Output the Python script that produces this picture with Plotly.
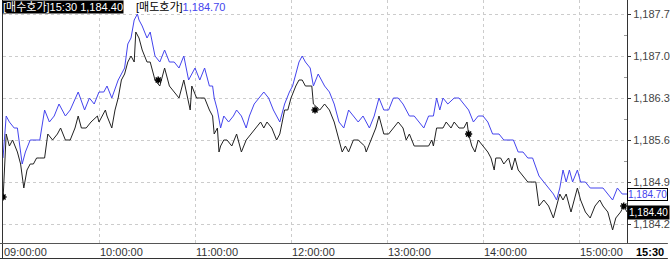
import plotly.graph_objects as go

# ---------------- data ----------------
ask_name = "[매도호가]"
bid_name = "[매수호가]"

# minutes after 09:00
ask_minutes = [
    0, 2, 4, 7, 9, 12, 14, 17, 20, 23, 26, 29, 32, 35, 39, 42, 47, 51, 54, 57,
    60, 63, 65, 68, 72, 74, 76, 78, 80, 82, 84, 85, 87, 90, 92, 95, 98, 101, 104, 107, 110, 113, 116,
    120, 123, 126, 129, 131, 132, 134, 136, 138, 141, 144, 146, 149, 152, 154, 157, 160, 163, 166, 169, 173, 176, 179,
    181, 183, 185, 187, 189, 192, 194, 197, 201, 204, 207, 210, 213, 216, 219, 222, 225, 229, 232, 235, 238,
    241, 244, 247, 250, 254, 257, 260, 263, 266, 269, 271, 273, 275, 278, 282, 285, 288, 291, 294, 297,
    300, 303, 306, 310, 313, 316, 319, 322, 325, 328, 331, 335, 338, 341, 344, 346, 348, 350, 352, 354, 356,
    359, 361, 364, 367, 370, 372, 375, 378, 381, 384, 387, 390,
]
ask_prices = [
    1185.3, 1186.0, 1185.9, 1185.8, 1185.8, 1185.2, 1185.4, 1185.6, 1185.6, 1185.6, 1186.1, 1185.9, 1186.0, 1186.2, 1186.0, 1186.1, 1186.4, 1186.1, 1186.3, 1186.2,
    1186.4, 1186.4, 1186.5, 1186.3, 1186.6, 1186.7, 1186.8, 1187.2, 1187.3, 1187.6, 1187.7, 1187.6, 1187.5, 1187.3, 1187.4, 1187.0, 1186.9, 1187.1, 1186.9, 1186.9, 1186.8, 1187.0, 1186.6,
    1186.8, 1186.6, 1186.8, 1186.5, 1186.5, 1186.3, 1186.1, 1185.8, 1186.0, 1185.9, 1186.0, 1186.1, 1186.0, 1185.8, 1186.0, 1186.2, 1186.3, 1186.4, 1186.3, 1186.1, 1185.9, 1186.2, 1186.4,
    1186.5, 1186.7, 1186.9, 1187.0, 1186.9, 1186.8, 1186.5, 1186.7, 1186.5, 1186.4, 1186.2, 1185.9, 1185.8, 1186.1, 1186.0, 1185.9, 1186.0, 1185.8, 1186.0, 1186.3, 1186.1,
    1186.1, 1186.3, 1186.3, 1186.2, 1186.0, 1186.0, 1185.9, 1185.8, 1186.0, 1186.0, 1186.3, 1186.1, 1186.3, 1186.2, 1186.3, 1186.3, 1186.2, 1186.1, 1185.9, 1186.0,
    1186.0, 1185.9, 1185.7, 1185.7, 1185.6, 1185.6, 1185.6, 1185.4, 1185.4, 1185.3, 1185.3, 1185.0, 1184.9, 1184.8, 1184.7, 1184.6, 1184.8, 1185.1, 1184.9, 1185.1, 1184.9,
    1185.1, 1184.9, 1184.9, 1184.8, 1184.8, 1184.8, 1184.8, 1184.7, 1184.6, 1184.8, 1184.7, 1184.7,
]

bid_minutes = [
    0, 2, 4, 6, 9, 11, 12, 13, 15, 17, 19, 21, 23, 26, 28, 31, 34, 36, 39, 42, 45, 47, 49, 52, 55, 59,
    60, 64, 65, 68, 70, 72, 74, 76, 78, 80, 82, 83, 85, 87, 90, 92, 95, 98, 101, 104, 107, 110, 113, 117, 118,
    121, 123, 126, 129, 131, 132, 134, 135, 136, 138, 140, 143, 146, 149, 152, 155, 158, 161, 163, 165, 168, 171, 173, 176, 178,
    180, 183, 185, 187, 189, 193, 194, 198, 201, 204, 207, 210, 212, 214, 216, 219, 222, 226, 227, 230, 233, 235, 238,
    241, 244, 247, 250, 252, 254, 257, 260, 263, 266, 268, 269, 271, 275, 277, 280, 282, 285, 288, 290, 291, 293, 295, 297,
    300, 303, 305, 307, 308, 311, 313, 316, 318, 320, 322, 325, 328, 331, 333, 335, 338, 341, 344, 346, 348, 350, 352, 355, 356,
    359, 361, 364, 367, 370, 373, 375, 378, 381, 383, 386, 388, 390,
]
bid_prices = [
    1184.6, 1185.7, 1185.5, 1185.6, 1185.4, 1185.2, 1185.0, 1184.8, 1185.1, 1185.2, 1185.2, 1185.3, 1185.3, 1185.3, 1185.7, 1185.6, 1185.7, 1185.8, 1185.6, 1185.6, 1185.8, 1186.0, 1185.8, 1185.8, 1185.9, 1186.0,
    1185.9, 1186.1, 1186.0, 1185.8, 1186.1, 1186.3, 1186.6, 1186.7, 1186.9, 1187.0, 1186.9, 1187.4, 1187.3, 1187.1, 1186.9, 1186.9, 1186.6, 1186.5, 1186.8, 1186.5, 1186.4, 1186.3, 1186.6, 1186.1, 1186.5,
    1186.3, 1186.3, 1186.3, 1186.1, 1186.0, 1185.7, 1185.8, 1185.4, 1185.5, 1185.6, 1185.6, 1185.5, 1185.7, 1185.4, 1185.6, 1185.7, 1185.8, 1185.9, 1185.8, 1185.9, 1185.8, 1185.6, 1185.7, 1186.1, 1186.1,
    1186.3, 1186.5, 1186.6, 1186.6, 1186.5, 1186.5, 1186.2, 1186.1, 1186.2, 1186.1, 1185.9, 1185.6, 1185.4, 1185.5, 1185.4, 1185.6, 1185.6, 1185.5, 1185.4, 1185.6, 1185.8, 1186.0, 1185.7,
    1185.7, 1185.8, 1185.9, 1185.8, 1185.6, 1185.7, 1185.5, 1185.5, 1185.5, 1185.5, 1185.6, 1185.5, 1185.8, 1185.8, 1185.9, 1185.8, 1185.9, 1185.8, 1185.8, 1185.9, 1185.7, 1185.5, 1185.4, 1185.6,
    1185.5, 1185.4, 1185.3, 1185.1, 1185.3, 1185.3, 1185.2, 1185.3, 1185.1, 1185.3, 1185.1, 1185.0, 1184.9, 1184.9, 1184.9, 1184.5, 1184.6, 1184.5, 1184.3, 1184.5, 1184.7, 1184.6, 1184.7, 1184.4, 1184.5,
    1184.8, 1184.6, 1184.4, 1184.3, 1184.5, 1184.6, 1184.5, 1184.4, 1184.1, 1184.3, 1184.4, 1184.5, 1184.4,
]

mark_minutes = [0, 97, 195, 291, 388]
mark_prices = [1184.65, 1186.6, 1186.1, 1185.7, 1184.5]

price_ticks = [1187.7, 1187.0, 1186.3, 1185.6, 1184.9, 1184.2]
hour_ticks = [0, 60, 120, 180, 240, 300, 360]
hour_labels = ["09:00:00", "10:00:00", "11:00:00", "12:00:00", "13:00:00", "14:00:00", "15:00:00"]
# --------------------------------------------------------------

W, H = 670, 259
ML, MR, MT, MB = 3, 41, 0, 16
PW, PH = W - ML - MR, H - MT - MB


def px_x(p):  # pixel -> paper x
    return (p - ML) / PW


def px_y(p):  # pixel -> paper y
    return (H - MB - p) / PH


def clock(m):
    t = 9 * 60 + m
    return f"{t // 60:02d}:{t % 60:02d}"


BLUE = "#4444ee"
DARK = "#222222"
FONT = "Liberation Sans, Arial, Noto Sans CJK KR, sans-serif"

fig = go.Figure()
fig.add_trace(go.Scatter(x=ask_minutes, y=ask_prices, mode="lines",
                         line=dict(color=BLUE, width=1), name=ask_name))
fig.add_trace(go.Scatter(x=bid_minutes, y=bid_prices, mode="lines",
                         line=dict(color=DARK, width=1), name=bid_name))
fig.add_trace(go.Scatter(x=mark_minutes, y=mark_prices, mode="markers",
                         marker=dict(symbol="asterisk-open", size=6, color="black",
                                     line=dict(color="black", width=1.5)),
                         showlegend=False))

last_t = clock(bid_minutes[-1])
last_bid = bid_prices[-1]
last_ask = ask_prices[-1]

ann = []
# top-left legend
ann.append(dict(xref="paper", yref="paper", x=px_x(2), y=1, xanchor="left", yanchor="top",
                text=f"{bid_name}{last_t} {last_bid:,.2f}", showarrow=False,
                font=dict(family=FONT, size=11, color="white"), bgcolor="black", borderpad=0))
ann.append(dict(xref="paper", yref="paper", x=px_x(135), y=1, xanchor="left", yanchor="top",
                text=f"{ask_name}<span style='color:{BLUE}'>{last_ask:,.2f}</span>", showarrow=False,
                font=dict(family=FONT, size=11, color="black"), bgcolor="white", borderpad=0))
# x labels (left-aligned at tick)
for m, lab in zip(hour_ticks, hour_labels):
    ann.append(dict(xref="x", yref="paper", x=m, y=px_y(244), xanchor="left", yanchor="top",
                    text=lab, showarrow=False, xshift=-1,
                    font=dict(family=FONT, size=11, color="#333333")))
ann.append(dict(xref="paper", yref="paper", x=px_x(636), y=px_y(244), xanchor="left", yanchor="top",
                text=f"<b>{last_t}</b>", showarrow=False,
                font=dict(family=FONT, size=11, color="black")))
# right value boxes
ann.append(dict(xref="paper", yref="y", x=1, y=last_ask, xanchor="left", yanchor="middle",
                text=f"{last_ask:,.2f}", showarrow=False, borderpad=0,
                font=dict(family=FONT, size=10, color=BLUE), bgcolor="white",
                bordercolor="black", borderwidth=1))
ann.append(dict(xref="paper", yref="y", x=1, y=last_bid, xanchor="left", yanchor="middle",
                text=f"{last_bid:,.2f}", showarrow=False, borderpad=1,
                font=dict(family=FONT, size=10, color="white"), bgcolor="black"))

shapes = [
    dict(type="line", xref="paper", yref="paper", x0=px_x(2.5), x1=px_x(2.5), y0=px_y(0), y1=px_y(258.5),
         line=dict(color="#333333", width=1)),
    dict(type="line", xref="paper", yref="paper", x0=px_x(0), x1=px_x(670), y0=px_y(243.5), y1=px_y(243.5),
         line=dict(color="#555555", width=1)),
    dict(type="line", xref="paper", yref="paper", x0=px_x(0), x1=px_x(670), y0=px_y(258.5), y1=px_y(258.5),
         line=dict(color="#333333", width=1)),
]

fig.update_layout(
    width=W, height=H, autosize=False,
    margin=dict(l=ML, r=MR, t=MT, b=MB, pad=0),
    paper_bgcolor="white", plot_bgcolor="white",
    showlegend=False,
    annotations=ann, shapes=shapes,
    xaxis=dict(range=[0, 390], tickvals=hour_ticks, showticklabels=False, ticks="",
               showgrid=True, gridcolor="#cccccc", griddash="dot", gridwidth=1,
               zeroline=False, showline=False, fixedrange=True),
    yaxis=dict(range=[1187.7 - 229 / 60, 1187.7 + 14 / 60], side="right",
               tickvals=price_ticks, tickformat=",.1f", ticks="outside", ticklen=3,
               tickcolor="#333333", showline=True, linecolor="#333333", linewidth=1,
               showgrid=True, gridcolor="#cccccc", griddash="dot", gridwidth=1,
               zeroline=False, tickfont=dict(family=FONT, size=11, color="#444444"),
               minor=dict(tickvals=[p - 0.35 for p in price_ticks], ticks="inside",
                          ticklen=3, tickcolor="#999999", showgrid=False),
               fixedrange=True),
)

fig.write_html("out.html")
